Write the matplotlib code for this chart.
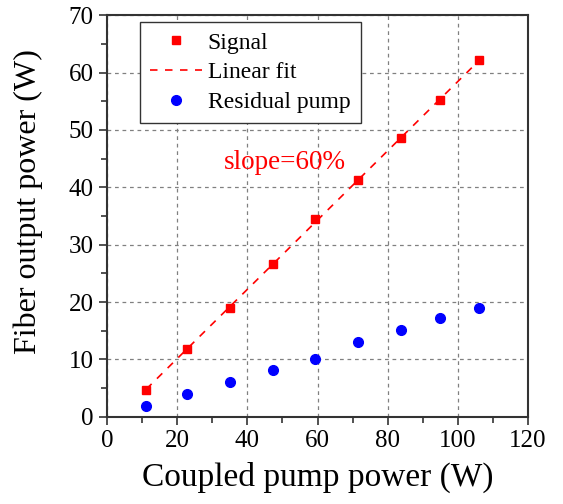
import matplotlib.pyplot as plt
import numpy as np

plt.rcParams['font.family'] = ['Liberation Serif', 'DejaVu Serif']

pump = [11.2, 22.7, 35.0, 47.3, 59.4, 71.5, 83.7, 94.8, 106.1]
signal = [4.7, 11.8, 19.0, 26.7, 34.4, 41.2, 48.5, 55.2, 62.1]
residual = [1.9, 4.0, 6.1, 8.2, 10.0, 13.1, 15.2, 17.3, 19.0]

k, b = np.polyfit(pump, signal, 1)
fit_x = np.array([pump[0], pump[-1]])
fit_y = k * fit_x + b

fig = plt.figure(figsize=(5.63, 5.04), dpi=100)
ax = fig.add_axes([0.190, 0.173, 0.748, 0.797])

ax.plot(pump, signal, 's', color='red', markersize=5.5, label='Signal', zorder=3)
ax.plot(fit_x, fit_y, '--', color='red', lw=1.2, dashes=(4.5, 4.5), label='Linear fit', zorder=2)
ax.plot(pump, residual, 'o', color='blue', markersize=7, label='Residual pump', zorder=3)

ax.text(33.3, 44.4, 'slope=60%', color='red', fontsize=19.5, va='center')

ax.set_xlim(0, 120)
ax.set_ylim(0, 70)
ax.set_xticks(np.arange(0, 121, 20))
ax.set_yticks(np.arange(0, 71, 10))
ax.set_xticks(np.arange(0, 121, 10), minor=True)
ax.set_yticks(np.arange(0, 71, 5), minor=True)
ax.grid(True, which='major', color='gray', ls=(0, (3, 3)), lw=0.9)
ax.tick_params(which='both', direction='out', labelsize=18, width=1.2, color='#333333')
ax.tick_params(which='major', length=6)
ax.tick_params(which='minor', length=4)
for s in ax.spines.values():
    s.set_linewidth(1.5)
    s.set_color('#333333')

ax.set_xlabel('Coupled pump power (W)', fontsize=24, labelpad=7)
ax.set_ylabel('Fiber output power (W)', fontsize=23)
ax.yaxis.set_label_coords(-0.152, 0.535)

leg = ax.legend(loc='upper left', bbox_to_anchor=(0.078, 0.983), fontsize=17,
                fancybox=False, edgecolor='#333333', framealpha=1,
                handlelength=2.2, handletextpad=0.25, borderpad=0.43,
                labelspacing=0.35, borderaxespad=0)
leg.get_frame().set_linewidth(1.0)

fig.savefig('out.png', dpi=100)
